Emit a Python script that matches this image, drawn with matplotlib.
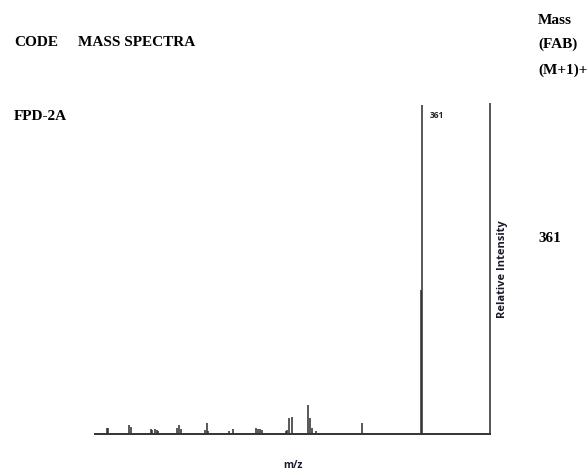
import matplotlib
matplotlib.use("Agg")
import matplotlib.pyplot as plt

# ── Data: m/z and relative intensity (%) ────────────────────────────────
mz = [184.6, 185.2, 196.9, 198.1, 209.3, 209.8, 211.5, 212.6, 213.2,
      223.8, 224.9, 226.1, 239.5, 240.6, 241.2, 252.9, 255.2,
      268.1, 269.2, 270.3, 271.4, 284.9, 285.4, 286.5, 288.2,
      297.2, 298.3, 299.4, 301.6, 327.4, 360.4, 361.0]
intensity = [1.8, 1.8, 2.7, 2.1, 1.5, 1.2, 1.6, 1.3, 1.0,
             1.8, 2.7, 1.5, 1.2, 3.3, 0.9, 0.9, 1.5,
             1.8, 1.6, 1.5, 1.2, 0.9, 1.2, 4.9, 5.2,
             8.8, 4.9, 1.8, 0.9, 3.3, 43.8, 100.0]
base_peak = 361
mz_range = (178.0, 399.0)

SERIF = ["Liberation Serif", "DejaVu Serif"]
SANS = ["Open Sans", "DejaVu Sans"]
INK = "#2b2b2b"

fig = plt.figure(figsize=(5.88, 4.73), dpi=100)
ax = fig.add_axes([0.1616, 0.0825, 0.6717, 0.6977])

ax.vlines(mz, 0, intensity, color=INK, linewidth=1.1)
ax.set_xlim(*mz_range)
ax.set_ylim(0, 100.4)

for side in ("left", "top"):
    ax.spines[side].set_visible(False)
ax.spines["bottom"].set_color("#333333")
ax.spines["bottom"].set_linewidth(1.4)
ax.spines["right"].set_color("#555555")
ax.spines["right"].set_linewidth(1.4)
ax.set_xticks([])
ax.set_yticks([])

# peak label and axis captions
ax.text(base_peak + 4.5, 97, str(base_peak), fontsize=6, fontweight="bold",
        family=SANS, color="#222222", ha="left", va="center")
ax.yaxis.set_label_position("right")
ax.set_ylabel("Relative Intensity", family=SANS, fontsize=8,
              fontweight="bold", color="#1a1a2e", labelpad=5)
ax.set_xlabel("m/z", family=SANS, fontsize=7.5, fontweight="bold",
              color="#1a1a2e", labelpad=19)

# table-like header text around the spectrum
head = dict(family=SERIF, fontweight="bold", fontsize=11, color="black",
            va="center", ha="left")
fig.text(14 / 588, 1 - 43 / 473, "CODE", **head)
fig.text(78 / 588, 1 - 43 / 473, "MASS SPECTRA", **head)
fig.text(14 / 588, 1 - 117 / 473, "FPD-2A", **head)
fig.text(538 / 588, 1 - 20 / 473, "Mass", **head)
fig.text(538 / 588, 1 - 44 / 473, "(FAB)", **head)
fig.text(538 / 588, 1 - 70 / 473, "(M+1)+", **head)
fig.text(538 / 588, 1 - 238 / 473, str(base_peak), **head)

fig.savefig("out.png", dpi=100)
